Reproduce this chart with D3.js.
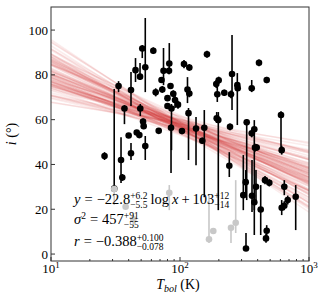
<!DOCTYPE html>
<html lang="en">
<head>
<meta charset="utf-8">
<title>Inclination vs Tbol</title>
<script src="https://cdn.jsdelivr.net/npm/d3@7"></script>
<style>
  html, body { margin: 0; padding: 0; background: #fff; }
  text { font-family: "Liberation Serif", "DejaVu Serif", serif; fill: #000; }
</style>
</head>
<body>
<div id="chart"></div>
<script>
// sources with measured inclination (black)
var blackT = [26.0, 30.9, 33.4, 34.9, 35.7, 37.1, 40.0, 41.7, 41.7, 45.2, 46.2, 48.4, 49.0, 49.2, 51.0, 51.7, 52.3, 53.8, 53.8, 62.1,
              64.8, 68.4, 74.5, 71.9, 72.9, 82.6, 82.2, 84.4, 88.7, 80.0, 91.5, 96.5, 80.0, 85.9, 107.4, 118.1, 114.3, 118.1, 116.4, 85.2,
              103.6, 133.1, 161.9, 154.3, 148.9, 191.1, 199.5, 194.6, 220.5, 248.5, 253.1, 278.2, 280.2, 359.7, 409.6, 470.0, 192.5, 198.1, 244.2, 328.9,
              359.7, 376.7, 381.4, 393.1, 606.7, 614.3, 241.1, 323.1, 309.6, 361.6, 376.7, 388.2, 422.3, 456.1, 492.3, 643.4, 614.3, 643.4, 683.8, 788.6,
              470.0, 464.2, 324.8];
var blackI = [43.8, 29.2, 75.0, 42.0, 34.2, 65.0, 52.9, 73.2, 45.0, 82.1, 54.3, 53.1, 79.2, 65.0, 91.8, 59.2, 57.1, 83.4, 48.2, 90.8,
              72.2, 55.0, 81.8, 77.7, 73.5, 85.1, 81.8, 75.0, 71.6, 69.6, 68.8, 66.7, 66.1, 65.0, 84.8, 83.3, 73.5, 71.7, 62.9, 56.4,
              54.9, 56.0, 89.2, 56.4, 50.6, 75.9, 77.6, 71.3, 72.0, 71.3, 80.4, 75.4, 74.0, 74.0, 85.4, 77.7, 60.6, 59.8, 56.8, 58.8,
              53.9, 55.7, 47.5, 47.6, 62.1, 46.4, 39.4, 32.1, 26.3, 26.0, 23.1, 30.0, 19.9, 33.0, 31.8, 30.0, 20.7, 21.6, 24.1, 25.6,
              10.4, 7.0, 2.5];
var blackLo = [1.8, 0.0, 2.7, 10.3, 1.5, 7.0, 1.1, 7.1, 3.0, 5.3, 1.0, 1.0, 1.5, 3.4, 4.3, 1.3, 1.3, 11.1, 6.2, 1.5,
               1.8, 1.0, 6.4, 1.3, 1.5, 4.3, 1.5, 1.3, 1.5, 1.3, 3.6, 1.8, 1.3, 18.6, 1.8, 1.5, 6.1, 1.7, 20.9, 20.2,
               1.3, 16.3, 1.6, 31.0, 1.4, 1.8, 1.6, 3.4, 1.4, 1.7, 16.1, 17.8, 1.0, 1.7, 1.5, 1.4, 2.1, 40.2, 1.5, 34.7,
               1.8, 47.2, 1.8, 1.5, 15.7, 2.0, 5.0, 5.8, 6.7, 7.2, 3.5, 5.9, 11.4, 1.8, 1.6, 3.7, 3.3, 2.0, 2.0, 14.9,
               2.4, 2.0, 0.7];
var blackHi = [1.7, 44.5, 2.2, 10.2, 1.5, 1.5, 1.1, 8.1, 4.6, 5.4, 1.0, 1.0, 6.1, 2.0, 1.5, 1.3, 1.3, 22.0, 4.5, 1.5,
               1.8, 1.0, 10.2, 1.3, 1.5, 9.1, 1.5, 1.3, 1.5, 1.3, 3.5, 1.8, 1.3, 2.0, 1.8, 1.5, 5.5, 1.7, 2.3, 1.6,
               1.3, 5.2, 1.6, 7.9, 1.4, 1.8, 1.6, 3.3, 1.4, 1.7, 17.4, 5.4, 1.0, 3.7, 1.5, 1.4, 2.8, 3.6, 1.5, 1.5,
               1.8, 4.1, 1.8, 1.5, 1.7, 2.0, 6.1, 5.4, 17.9, 16.0, 3.2, 7.5, 10.9, 1.8, 1.6, 3.0, 3.4, 2.0, 2.0, 5.2,
               2.5, 2.0, 6.9];

// excluded sources (gray)
var grayT = [30.9, 37.9, 43.5, 82.6, 167.8, 181.2, 248.5, 270.3];
var grayI = [29.0, 21.1, 15.5, 27.4, 6.6, 10.3, 11.7, 14.0];
var grayLo = [7.1, 1.0, 3.0, 7.8, 1.7, 1.3, 6.8, 4.6];
var grayHi = [0.0, 1.0, 3.0, 3.4, 19.7, 1.3, 1.2, 19.0];

// posterior draws of the fit: slope and value at Tbol = 100 K
var fitSlope = [-22.1, -28.4, -17.5, -25.9, -19.8, -31.2, -14.6, -23.7, -20.4, -27.1, -16.9, -24.8, -21.3, -29.6, -18.2,
                -26.3, -22.9, -12.8, -33.5, -20.9, -24.1, -19.1, -27.8, -15.7, -23.2, -30.4, -21.8, -17.9, -25.4, -22.5,
                -13.9, -28.9, -20.1, -26.7, -18.7, -24.4, -35.2, -21.1, -16.3, -23.9, -27.5, -19.5, -22.4, -11.6, -29.1,
                -25.1, -20.6, -31.8, -17.2, -24.6, -22.7, -26.0, -18.9, -21.6, -28.1, -15.2, -23.4, -20.0, -25.7, -22.0,
                -38.5, -9.8, -33.0, -14.1, -30.0, -26.9, -17.0, -36.4, -10.7, -24.0, -19.4, -32.6, -13.2, -27.3, -21.0,
                -34.1, -16.0, -28.6, -8.9, -25.5, -22.3, -30.9, -18.4, -37.0, -12.2, -26.5, -20.3, -33.9, -15.9, -23.6,
                -29.4, -17.7, -24.9, -21.9, -31.5, -14.9, -27.0, -19.3, -35.8, -23.0];
var fitAt100 = [57.9, 55.8, 59.6, 56.3, 58.8, 54.9, 60.2, 57.1, 58.3, 56.0, 59.1, 57.5, 55.2, 58.6, 56.7,
                60.8, 57.0, 58.0, 54.4, 59.4, 56.5, 57.7, 58.9, 55.6, 61.3, 57.3, 56.1, 58.4, 53.8, 57.8,
                59.9, 56.9, 55.4, 58.1, 57.2, 60.5, 56.4, 54.7, 58.5, 57.6, 59.0, 55.9, 56.8, 58.2, 57.4,
                53.5, 59.7, 56.2, 57.0, 60.0, 55.1, 58.7, 56.6, 57.9, 61.0, 55.5, 58.0, 56.9, 54.2, 59.3,
                57.2, 58.1, 56.0, 59.2, 55.3, 58.6, 57.8, 56.6, 60.1, 54.8, 57.5, 59.0, 56.3, 58.4, 53.2,
                57.0, 61.6, 55.7, 58.8, 57.3, 59.5, 56.2, 54.6, 57.9, 58.3, 62.0, 56.8, 55.5, 59.8, 53.9,
                57.6, 60.4, 56.9, 55.0, 58.0, 57.1, 59.2, 56.4, 58.7, 57.4];

var yTicks = [0, 20, 40, 60, 80, 100];
var xTicks = [10, 100, 1000];
var xTickExp = ["1", "2", "3"];

var width = 319, height = 294;
var plotL = 51, plotR = 309, plotT = 7, plotB = 261;

var svg = d3.select("#chart").append("svg")
    .attr("width", width)
    .attr("height", height);

var x = d3.scaleLog().domain([10, 1000]).range([plotL, plotR]);
var y = d3.scaleLinear().domain([-3.1, 110.3]).range([plotB, plotT]);

svg.append("clipPath").attr("id", "plotclip")
  .append("rect").attr("x", plotL).attr("y", plotT)
    .attr("width", plotR - plotL).attr("height", plotB - plotT);

var plot = svg.append("g").attr("clip-path", "url(#plotclip)");

// fit lines
var fitLines = fitSlope.map(function(m, k) {
  return [10, 1000].map(function(t) {
    return [t, fitAt100[k] + m * (Math.log10(t) - 2)];
  });
});
var line = d3.line().x(function(d) { return x(d[0]); }).y(function(d) { return y(d[1]); });
plot.selectAll("path.fit")
    .data(fitLines)
  .enter().append("path")
    .attr("class", "fit")
    .attr("d", line)
    .attr("fill", "none")
    .attr("stroke", "#d62728")
    .attr("stroke-opacity", 0.09)
    .attr("stroke-width", 1.5);

function drawPoints(T, I, lo, hi, color) {
  var g = plot.append("g");
  g.selectAll("line")
      .data(T)
    .enter().append("line")
      .attr("x1", function(d) { return x(d); })
      .attr("x2", function(d) { return x(d); })
      .attr("y1", function(d, k) { return y(I[k] - lo[k]); })
      .attr("y2", function(d, k) { return y(I[k] + hi[k]); })
      .attr("stroke", color)
      .attr("stroke-width", 1.6);
  g.selectAll("circle")
      .data(T)
    .enter().append("circle")
      .attr("cx", function(d) { return x(d); })
      .attr("cy", function(d, k) { return y(I[k]); })
      .attr("r", 3.3)
      .attr("fill", color);
}
drawPoints(blackT, blackI, blackLo, blackHi, "#000");
drawPoints(grayT, grayI, grayLo, grayHi, "#c8c8c8");

// frame
svg.append("rect")
    .attr("x", plotL).attr("y", plotT)
    .attr("width", plotR - plotL).attr("height", plotB - plotT)
    .attr("fill", "none").attr("stroke", "#333").attr("stroke-width", 1);

// y ticks (inside)
yTicks.forEach(function(v) {
  svg.append("line")
      .attr("x1", plotL).attr("x2", plotL + 4)
      .attr("y1", y(v)).attr("y2", y(v))
      .attr("stroke", "#333");
  svg.append("text")
      .attr("x", plotL - 3).attr("y", y(v) + 4.5)
      .attr("text-anchor", "end")
      .attr("font-size", 13)
      .text(v);
});

// x ticks (inside), major and minor
var minor = [];
[10, 100].forEach(function(dec) {
  for (var k = 2; k <= 9; k++) minor.push(dec * k);
});
minor.forEach(function(v) {
  svg.append("line")
      .attr("x1", x(v)).attr("x2", x(v))
      .attr("y1", plotB).attr("y2", plotB - 2)
      .attr("stroke", "#333");
});
xTicks.forEach(function(v, k) {
  svg.append("line")
      .attr("x1", x(v)).attr("x2", x(v))
      .attr("y1", plotB).attr("y2", plotB - 4)
      .attr("stroke", "#333");
  var t = svg.append("text")
      .attr("x", x(v)).attr("y", 273)
      .attr("text-anchor", "middle")
      .attr("font-size", 13);
  t.append("tspan").text("10");
  t.append("tspan").attr("dy", -5).attr("font-size", 9).text(xTickExp[k]);
});

// axis labels
var xl = svg.append("text")
    .attr("x", 178).attr("y", 289)
    .attr("text-anchor", "middle")
    .attr("font-size", 14);
xl.append("tspan").attr("font-style", "italic").text("T");
xl.append("tspan").attr("font-style", "italic").attr("font-size", 10).attr("dy", 3).text("bol");
xl.append("tspan").attr("dy", -3).text("\u00a0(K)");

var yl = svg.append("text")
    .attr("transform", "translate(16,134) rotate(-90)")
    .attr("text-anchor", "middle")
    .attr("font-size", 14);
yl.append("tspan").attr("font-style", "italic").text("i");
yl.append("tspan").text("\u00a0(\u00b0)");

// fit annotation
function mathLine(x0, y0, parts) {
  var cx = x0;
  parts.forEach(function(p) {
    if (p.gap) { cx += p.gap; return; }
    if (p.sup !== undefined) {
      var a = svg.append("text").attr("x", cx).attr("y", y0 - 5.5).attr("font-size", 9.5).text(p.sup);
      var b = svg.append("text").attr("x", cx).attr("y", y0 + 3.5).attr("font-size", 9.5).text(p.sub);
      cx += Math.max(a.node().getComputedTextLength(), b.node().getComputedTextLength());
      return;
    }
    var t = svg.append("text").attr("x", cx).attr("y", y0)
        .attr("font-size", 14.5)
        .attr("font-style", p.it ? "italic" : null)
        .text(p.t);
    cx += t.node().getComputedTextLength();
  });
}

mathLine(74, 204, [{t: "y", it: true}, {gap: 4}, {t: "="}, {gap: 4}, {t: "\u221222.8"},
  {sup: "+6.2", sub: "\u22125.5"}, {gap: 3}, {t: "log"}, {gap: 3}, {t: "x", it: true},
  {gap: 3}, {t: "+"}, {gap: 3}, {t: "103"}, {sup: "+12", sub: "\u221214"}]);
mathLine(74, 224, [{t: "\u03c3", it: true}, {sup: "2", sub: ""}, {gap: 4}, {t: "="}, {gap: 4},
  {t: "457"}, {sup: "+91", sub: "\u221255"}]);
mathLine(74, 246, [{t: "r", it: true}, {gap: 4}, {t: "="}, {gap: 4}, {t: "\u22120.388"},
  {sup: "+0.100", sub: "\u22120.078"}]);
</script>
</body>
</html>
